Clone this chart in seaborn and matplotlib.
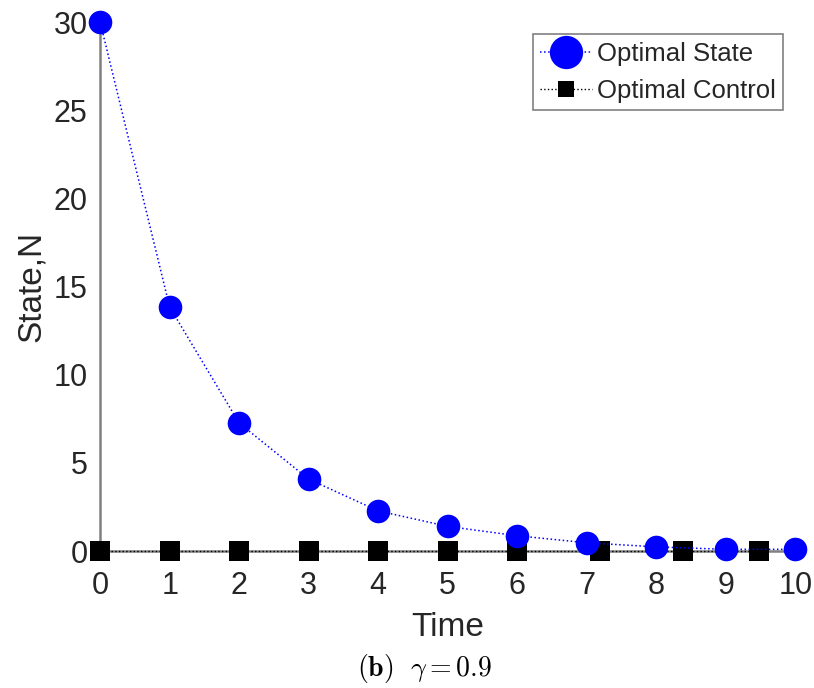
import matplotlib
matplotlib.use("Agg")
import matplotlib.pyplot as plt
import seaborn as sns
import pandas as pd

# Optimal state trajectory N(t)
state_time = [0, 1, 2, 3, 4, 5, 6, 7, 8, 9, 10]
state_values = [30.0, 13.84, 7.26, 4.08, 2.28, 1.40, 0.87, 0.47, 0.24, 0.10, 0.10]

# Optimal control u(t)
control_time = [0, 1, 2, 3, 4, 5, 6, 7.19, 8.38, 9.48]
control_values = [0, 0, 0, 0, 0, 0, 0, 0, 0, 0]

x_ticks = [0, 1, 2, 3, 4, 5, 6, 7, 8, 9, 10]
y_ticks = [0, 5, 10, 15, 20, 25, 30]

sns.set_style("white")
plt.rcParams["font.family"] = ["Liberation Sans", "DejaVu Sans"]
plt.rcParams["mathtext.fontset"] = "cm"

fig = plt.figure(figsize=(8.14, 6.88), dpi=100)
ax = fig.add_axes([0.123, 0.199, 0.854, 0.769])

state_df = pd.DataFrame({"t": state_time, "N": state_values})
control_df = pd.DataFrame({"t": control_time, "u": control_values})

sns.lineplot(data=control_df, x="t", y="u", ax=ax, color="black", linestyle=":",
             linewidth=1.0, marker="s", markersize=14, markeredgewidth=0,
             label="Optimal Control", clip_on=False, zorder=3)
sns.lineplot(data=state_df, x="t", y="N", ax=ax, color="#0000ff", linestyle=":",
             linewidth=1.1, marker="o", markersize=17, markeredgewidth=0,
             label="Optimal State", clip_on=False, zorder=4)

ax.set_xlim(0, 10)
ax.set_ylim(0, 30)
ax.set_xticks(x_ticks)
ax.set_yticks(y_ticks)

for side in ["top", "right"]:
    ax.spines[side].set_visible(False)
for side in ["left", "bottom"]:
    ax.spines[side].set_color("#808080")
    ax.spines[side].set_linewidth(1.8)
    ax.spines[side].set_zorder(2)

ax.tick_params(axis="both", direction="in", length=5, width=1.2, color="#808080",
               labelsize=22, labelcolor="#262626")
ax.tick_params(axis="y", pad=9)
ax.tick_params(axis="x", pad=14)

ax.set_xlabel("Time", fontsize=24, color="#262626", labelpad=8)
ax.set_ylabel("State,N", fontsize=24, color="#262626", labelpad=5)

handles, labels = ax.get_legend_handles_labels()
order = [labels.index("Optimal State"), labels.index("Optimal Control")]
leg = ax.legend([handles[i] for i in order], [labels[i] for i in order],
                loc="upper right", bbox_to_anchor=(0.983, 0.977), fontsize=18.5,
                frameon=True, fancybox=False, framealpha=1, edgecolor="#808080",
                handlelength=2.0, handletextpad=0.2, borderpad=0.3,
                labelspacing=0.5, borderaxespad=0.0)
leg.get_frame().set_linewidth(1.2)
leg_sizes = [24, 12]
for h, ms in zip(leg.legend_handles, leg_sizes):
    h.set_markersize(ms)

fig.text(0.522, 0.029, r"$\mathbf{(b)}\ \ \gamma = 0.9$", fontsize=20,
         ha="center", va="center", color="black")

fig.savefig("out.png", dpi=100)
